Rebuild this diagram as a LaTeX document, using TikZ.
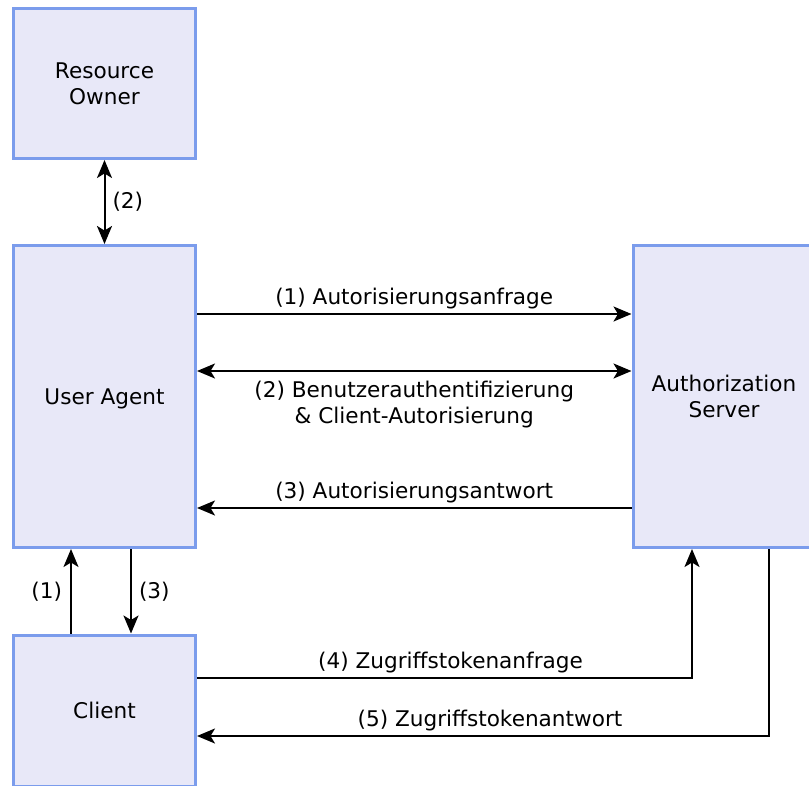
\documentclass[tikz,border=0pt]{standalone}
\usepackage{fontspec}
\setmainfont{DejaVu Sans}
\usetikzlibrary{arrows.meta}
\definecolor{boxfill}{HTML}{E8E8F8}
\definecolor{boxline}{HTML}{7B9CEC}
\tikzset{
  actor/.style={draw=boxline, fill=boxfill, line width=3pt, align=center,
    minimum width=182pt, font=\fontsize{21.6}{26}\selectfont, inner sep=0pt},
  flow/.style={line width=2pt, -{Stealth[length=18pt, width=15pt, inset=4.5pt]}},
  biflow/.style={line width=2pt, {Stealth[length=18pt, width=15pt, inset=4.5pt]}-{Stealth[length=18pt, width=15pt, inset=4.5pt]}},
  lbl/.style={font=\fontsize{21.6}{26}\selectfont, inner sep=0pt, align=center}
}
\begin{document}
\begin{tikzpicture}[x=1pt, y=-1pt]
  \useasboundingbox (0,0) rectangle (809,785);
  \clip (0,0) rectangle (809,785);

  % participants
  \node[actor, minimum height=150pt] (ro) at (104.5,83.5) {Resource\\Owner};
  \node[actor, minimum height=302pt, text depth=0pt] (ua) at (104.5,396.5) {User Agent};
  \node[actor, minimum height=302pt] (as) at (724,396.5) {Authorization\\Server};
  \node[actor, minimum height=151pt] (cl) at (104.5,710.5) {Client};

  % helper rows and columns
  \coordinate (r1) at (0,314);
  \coordinate (r2) at (0,371);
  \coordinate (r3) at (0,508);
  \coordinate (r4) at (0,678);
  \coordinate (r5) at (0,736);
  \coordinate (c1) at (71,0);
  \coordinate (c3) at (131,0);
  \coordinate (c4) at (692,0);
  \coordinate (c5) at (769,0);

  % resource owner <-> user agent
  \draw[biflow] (ro.south) -- node[lbl, anchor=west, xshift=7pt] {(2)} (ua.north);

  % user agent <-> authorization server
  \draw[flow] (ua.east |- r1) -- node[lbl, anchor=base, yshift=10pt] {(1) Autorisierungsanfrage} (as.west |- r1);
  \draw[biflow] (ua.east |- r2) -- node[lbl, anchor=north, yshift=-9pt] {(2) Benutzerauthentifizierung\\\& Client-Autorisierung} (as.west |- r2);
  \draw[flow] (as.west |- r3) -- node[lbl, anchor=base, yshift=10pt] {(3) Autorisierungsantwort} (ua.east |- r3);

  % client <-> user agent
  \draw[flow] (c1 |- cl.north) -- node[lbl, anchor=east, xshift=-8pt] {(1)} (c1 |- ua.south);
  \draw[flow] (c3 |- ua.south) -- node[lbl, anchor=west, xshift=7pt] {(3)} (c3 |- cl.north);

  % client <-> authorization server
  \draw[flow] (cl.east |- r4) -- node[lbl, anchor=base, yshift=10pt, xshift=6pt] {(4) Zugriffstokenanfrage} (c4 |- r4) -- (c4 |- as.south);
  \draw[flow] (c5 |- as.south) -- (c5 |- r5) -- node[lbl, anchor=base, yshift=10pt, xshift=7pt] {(5) Zugriffstokenantwort} (cl.east |- r5);
\end{tikzpicture}
\end{document}
